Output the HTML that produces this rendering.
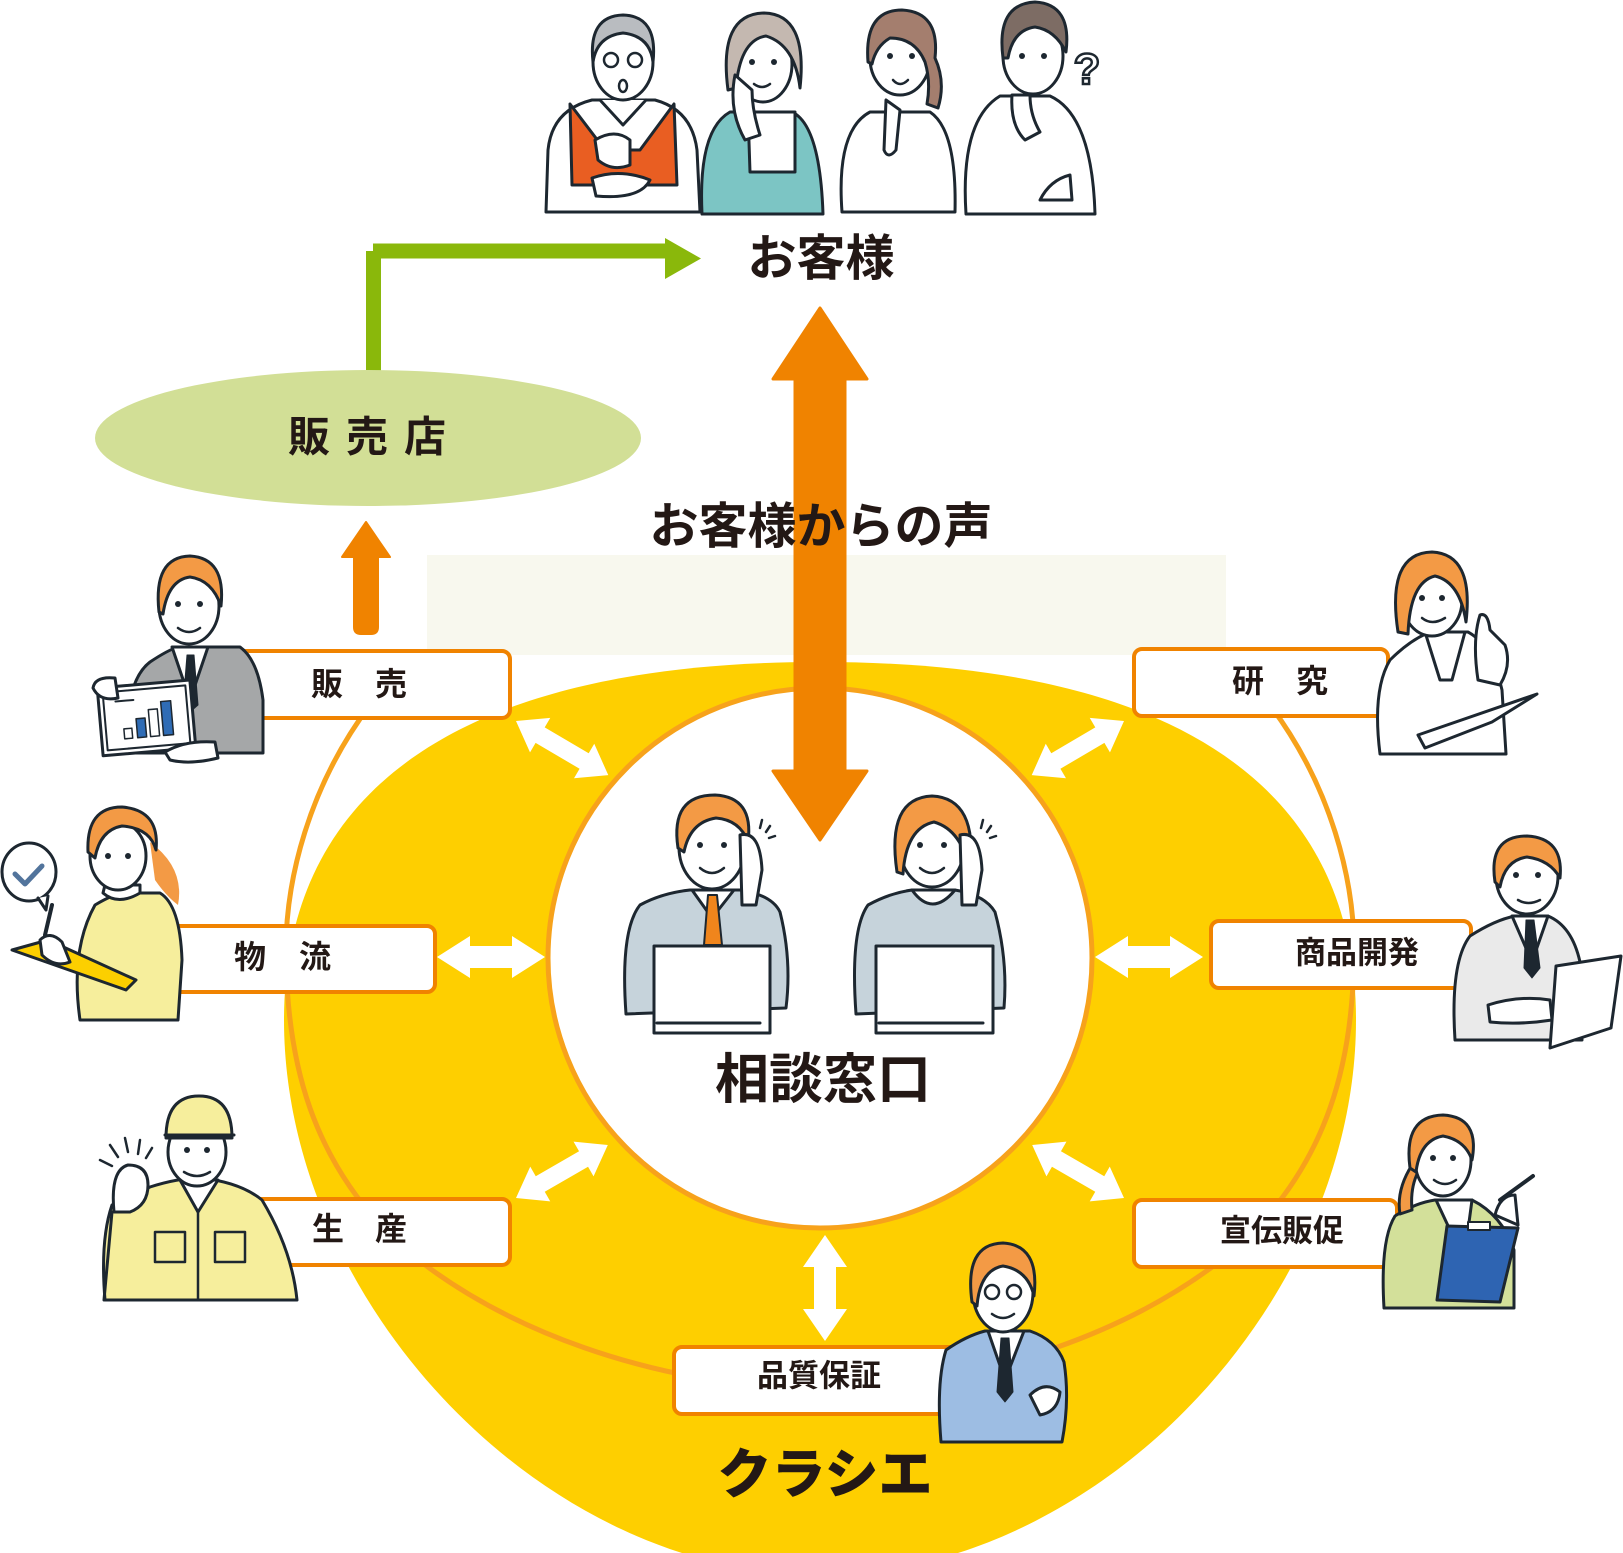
<!DOCTYPE html>
<html><head><meta charset="utf-8"><style>
html,body{margin:0;padding:0;background:#fff;}
svg{display:block;font-family:"Liberation Sans","Noto Sans CJK JP",sans-serif;}
.t{font-weight:700;fill:#231815;text-anchor:middle;dominant-baseline:central;}
.k{stroke:#1d2730;stroke-width:3;stroke-linejoin:round;stroke-linecap:round;}
</style></head><body>
<svg width="1623" height="1553" viewBox="0 0 1623 1553" xmlns="http://www.w3.org/2000/svg">
<rect x="0" y="0" width="1623" height="1553" fill="#fff"/>
<!-- pale rect -->
<rect x="427" y="555" width="799" height="100" fill="#f8f8ee"/>
<!-- yellow shape -->
<path d="M820 662 C1180 662 1356 790 1356 1020 C1356 1300 1100 1575 820 1575 C540 1575 284 1300 284 1020 C284 790 460 662 820 662 Z" fill="#fecf00"/>
<!-- thin amber loop -->
<path d="M370 705 C310 785 284 880 286 960 C288 1060 310 1160 400 1245 C500 1330 650 1385 820 1390 C990 1385 1140 1330 1240 1245 C1330 1160 1352 1060 1354 960 C1356 880 1330 785 1270 705" fill="none" stroke="#f7a21b" stroke-width="5"/>
<!-- white circle -->
<ellipse cx="820" cy="958" rx="272" ry="270" fill="#fff" stroke="#f7a21b" stroke-width="5"/>

<!-- ellipse 販売店 -->
<path d="M373 251 H666" stroke="#8ab80b" stroke-width="15" fill="none"/>
<rect x="366" y="251" width="15" height="125" fill="#8ab80b"/>
<polygon points="665,238 701,258.5 665,279" fill="#8ab80b"/>
<ellipse cx="368" cy="438" rx="273" ry="68" fill="#d2df96"/>
<text class="t" x="309" y="437" font-size="42">販</text>
<text class="t" x="367" y="437" font-size="42">売</text>
<text class="t" x="425" y="437" font-size="42">店</text>

<!-- small orange arrow -->
<path d="M366 522 L390 557 L378 557 L378 627 Q378 634 371 634 L361 634 Q354 634 354 627 L354 557 L342 557 Z" fill="#f08300" stroke="#f08300" stroke-width="2" stroke-linejoin="round"/>

<!-- boxes -->
<g fill="#fff" stroke="#f08300" stroke-width="4">
<rect x="220" y="651" width="290" height="67" rx="8"/>
<rect x="1134" y="649" width="254" height="67" rx="8"/>
<rect x="168" y="926" width="267" height="66" rx="8"/>
<rect x="1211" y="921" width="260" height="67" rx="8"/>
<rect x="245" y="1199" width="265" height="66" rx="8"/>
<rect x="1134" y="1200" width="263" height="67" rx="8"/>
<rect x="674" y="1347" width="290" height="67" rx="8"/>
</g>
<text class="t" x="327" y="684" font-size="32">販</text>
<text class="t" x="391" y="684" font-size="32">売</text>
<text class="t" x="1248" y="681" font-size="32">研</text>
<text class="t" x="1312" y="681" font-size="32">究</text>
<text class="t" x="250" y="957" font-size="32">物</text>
<text class="t" x="315" y="957" font-size="32">流</text>
<text class="t" x="328" y="1229" font-size="32">生</text>
<text class="t" x="391" y="1229" font-size="32">産</text>
<text class="t" x="1357" y="953" font-size="31">商品開発</text>
<text class="t" x="1282" y="1231" font-size="31">宣伝販促</text>
<text class="t" x="819" y="1376" font-size="31">品質保証</text>

<!-- white double arrows -->
<g fill="#fff">
<polygon transform="translate(516,721) rotate(30.4)" points="0,0 28,-20 28,-9 79,-9 79,-20 107,0 79,20 79,9 28,9 28,20"/>
<polygon transform="translate(1124,721) rotate(149.6)" points="0,0 28,-20 28,-9 79,-9 79,-20 107,0 79,20 79,9 28,9 28,20"/>
<polygon transform="translate(516,1198) rotate(-30)" points="0,0 28,-20 28,-9 78,-9 78,-20 106,0 78,20 78,9 28,9 28,20"/>
<polygon transform="translate(1124,1198) rotate(210)" points="0,0 28,-20 28,-9 78,-9 78,-20 106,0 78,20 78,9 28,9 28,20"/>
<polygon transform="translate(437,957)" points="0,0 33,-21 33,-11 75,-11 75,-21 108,0 75,21 75,11 33,11 33,21"/>
<polygon transform="translate(1095,957)" points="0,0 33,-21 33,-11 75,-11 75,-21 108,0 75,21 75,11 33,11 33,21"/>
<polygon transform="translate(825,1235) rotate(90)" points="0,0 32,-22 32,-11 74,-11 74,-22 106,0 74,22 74,11 32,11 32,22"/>
</g>

<!-- big orange double arrow -->
<path d="M820 308 L867 379 L845 379 L845 771 L867 771 L820 840 L773 771 L795 771 L795 379 L773 379 Z" fill="#f08300" stroke="#f08300" stroke-width="3" stroke-linejoin="round"/>

<!-- texts (on top of arrow) -->
<text class="t" x="821" y="259" font-size="49">お客様</text>
<text class="t" x="821" y="527" font-size="49">お客様からの声</text>
<text class="t" x="823" y="1080" font-size="54">相談窓口</text>
<text class="t" x="825" y="1475" font-size="54" style="font-weight:900">クラシエ</text>

<!-- ===== customers ===== -->
<g class="k">
<!-- P1 old man -->
<path d="M546 212 L548 150 Q552 110 592 100 L655 100 Q692 110 697 150 L700 212 Z" fill="#fff"/>
<path d="M570 104 L605 150 L640 150 L674 104 L677 185 L572 185 Z" fill="#e95e22"/>
<path d="M600 100 L623 125 L646 100" fill="#fff"/>
<ellipse cx="623" cy="62" rx="30" ry="38" fill="#fff"/>
<path d="M593 62 Q588 16 623 15 Q658 16 653 62 Q650 36 623 33 Q597 36 593 62 Z" fill="#b9bcc0"/>
<circle cx="611" cy="60" r="7" fill="none" stroke-width="2.5"/>
<circle cx="635" cy="60" r="7" fill="none" stroke-width="2.5"/>
<ellipse cx="623" cy="86" rx="4" ry="6" fill="#fff" stroke-width="2.5"/>
<path d="M595 140 Q615 128 630 140 L630 165 Q612 172 598 160 Z" fill="#fff"/>
<path d="M592 178 Q620 168 650 180 Q640 200 596 196 Z" fill="#fff"/>
<!-- P2 old woman -->
<path d="M702 214 Q698 130 730 112 L792 112 Q820 125 823 214 Z" fill="#7cc5c4"/>
<path d="M748 112 L795 112 L795 172 L750 172 Z" fill="#fff"/>
<ellipse cx="763" cy="64" rx="29" ry="38" fill="#fff"/>
<path d="M728 90 Q718 14 764 13 Q808 14 800 88 Q795 45 766 36 Q740 40 736 88 Z" fill="#c4b8b0"/>
<path d="M735 75 Q728 110 745 140 L760 135 Q752 110 752 90 Z" fill="#fff"/>
<path d="M754 84 Q762 90 770 84" fill="none" stroke-width="2.5"/>
<!-- P3 woman -->
<path d="M842 212 Q836 130 870 112 L930 112 Q957 130 955 212 Z" fill="#fff"/>
<ellipse cx="900" cy="58" rx="30" ry="37" fill="#fff"/>
<path d="M868 62 Q864 10 902 10 Q940 12 935 58 Q946 82 938 108 L927 104 Q931 82 925 62 Q915 38 890 38 Q876 46 872 64 Z" fill="#a47e6e"/>
<path d="M886 100 L884 150 Q888 160 896 150 L900 110 Z" fill="#fff"/>
<path d="M893 80 Q900 88 908 80" fill="#fff" stroke-width="2.5"/>
<!-- P4 man -->
<path d="M966 214 Q960 120 1000 96 L1050 96 Q1092 115 1095 214 Z" fill="#fff"/>
<ellipse cx="1033" cy="56" rx="30" ry="38" fill="#fff"/>
<path d="M1003 58 Q996 4 1035 2 Q1072 4 1066 52 Q1055 30 1035 27 Q1013 30 1008 58 Z" fill="#7d6c64"/>
<path d="M1012 95 Q1010 125 1025 140 L1040 132 Q1030 115 1030 95 Z" fill="#fff"/>
<path d="M1040 200 Q1050 180 1070 175 L1072 200 Z" fill="#fff"/>
</g>
<text x="1087" y="84" font-size="44" font-weight="700" fill="#fff" stroke="#1d2730" stroke-width="2.5" text-anchor="middle" font-family="Liberation Sans, sans-serif">?</text>

<!-- ===== call center ===== -->
<g class="k">
<path d="M626 1014 Q620 930 640 905 Q662 893 690 890 L740 890 Q772 895 780 912 Q792 960 786 1008 Z" fill="#c6d3db"/>
<path d="M692 890 L712 918 L734 890 Z" fill="#fff"/>
<polygon points="708,895 717,895 722,945 704,945" fill="#f0851c" stroke-width="2"/>
<ellipse cx="712" cy="847" rx="33" ry="42" fill="#fff"/>
<path d="M678 848 Q670 795 715 795 Q754 797 748 842 Q740 820 716 818 Q690 822 684 852 Z" fill="#f39a45"/>
<path d="M740 835 Q760 830 762 870 L756 905 L742 905 Z" fill="#fff"/>
<rect x="654" y="946" width="116" height="87" fill="#fff"/>
<line x1="657" y1="1023" x2="760" y2="1023"/>
<path d="M856 1014 Q850 930 868 905 Q890 893 912 890 L955 890 Q985 895 995 912 Q1008 960 1004 1008 Z" fill="#c6d3db"/>
<path d="M912 890 Q932 918 955 890 Z" fill="#fff"/>
<ellipse cx="932" cy="847" rx="32" ry="40" fill="#fff"/>
<path d="M897 872 Q886 798 932 796 Q978 798 970 872 Q962 830 934 822 Q906 828 903 874 Z" fill="#f39a45"/>
<path d="M960 835 Q980 830 982 870 L976 905 L962 905 Z" fill="#fff"/>
<rect x="876" y="946" width="117" height="87" fill="#fff"/>
<line x1="879" y1="1023" x2="983" y2="1023"/>
<path d="M700 868 Q712 878 724 868" fill="none" stroke-width="2.5"/>
<path d="M920 868 Q932 878 944 868" fill="none" stroke-width="2.5"/>
</g>
<g stroke="#1d2730" stroke-width="2.5" stroke-linecap="round">
<line x1="762" y1="820" x2="760" y2="828"/><line x1="770" y1="826" x2="766" y2="832"/><line x1="775" y1="836" x2="769" y2="838"/>
<line x1="983" y1="820" x2="981" y2="828"/><line x1="991" y1="826" x2="987" y2="832"/><line x1="996" y1="836" x2="990" y2="838"/>
</g>

<!-- ===== 販売 man ===== -->
<g class="k">
<path d="M127 753 Q124 682 150 662 Q168 650 178 647 L240 647 Q258 660 263 700 L263 753 Z" fill="#a5a7a8"/>
<path d="M172 647 L190 700 L208 647 Z" fill="#fff"/>
<polygon points="187,655 194,655 198,705 190,712 183,705" fill="#1d2730" stroke-width="1"/>
<ellipse cx="189" cy="606" rx="30" ry="38" fill="#fff"/>
<path d="M159 612 Q153 557 190 556 Q226 558 221 606 Q212 580 190 577 Q168 580 163 614 Z" fill="#f39a45"/>
<path d="M178 628 Q189 636 200 628" fill="#fff" stroke-width="2.5"/>
<g transform="rotate(-5 145 718)"><rect x="100" y="684" width="93" height="68" fill="#fff"/>
<rect x="105" y="689" width="83" height="58" fill="none" stroke-width="2"/>
<rect x="123" y="727" width="8" height="10" fill="#fff" stroke-width="1.5"/>
<rect x="136" y="718" width="9" height="19" fill="#2f6cb5" stroke-width="1.5"/>
<rect x="149" y="710" width="9" height="27" fill="#fff" stroke-width="1.5"/>
<rect x="162" y="703" width="10" height="34" fill="#2f6cb5" stroke-width="1.5"/>
<line x1="117" y1="699" x2="135" y2="699" stroke-width="2"/></g>
<path d="M93 688 Q95 676 115 678 L118 698 Q100 702 93 688 Z" fill="#fff"/>
<path d="M165 752 Q185 740 215 742 L218 758 Q190 765 170 760 Z" fill="#fff"/>
</g>

<!-- ===== 物流 woman ===== -->
<g class="k">
<path d="M80 1020 Q70 950 95 905 Q115 893 125 893 L160 893 Q180 905 182 960 L178 1020 Z" fill="#f6ee9c"/>
<path d="M103 893 Q118 906 140 893 L140 885 L105 885 Z" fill="#fff"/>
<path d="M150 842 Q185 868 178 905 Q166 896 155 880 Z" fill="#f39a45" stroke="none"/>
<ellipse cx="118" cy="856" rx="28" ry="34" fill="#fff"/>
<path d="M88 852 Q86 807 122 807 Q160 810 156 850 Q150 828 122 826 Q100 830 95 858 Z" fill="#f39a45"/>
<polygon points="12,950 48,940 136,980 126,990" fill="#fccf00"/>
<path d="M40 940 Q50 930 62 942 L70 962 Q55 968 42 955 Z" fill="#fff"/>
<line x1="45" y1="935" x2="52" y2="905" stroke-width="4"/>
<ellipse cx="29" cy="872" rx="27" ry="29" fill="#fff"/>
<path d="M38 898 L46 910 L48 896" fill="#fff"/>
</g>
<path d="M15 874 L25 884 L42 866" fill="none" stroke="#52749c" stroke-width="5" stroke-linecap="round" stroke-linejoin="round"/>

<!-- ===== 生産 man ===== -->
<g class="k">
<path d="M105 1300 Q100 1240 112 1205 L150 1187 Q178 1178 200 1178 Q240 1182 262 1200 Q292 1250 297 1300 Z" fill="#f6ee9c"/>
<path d="M180 1180 L198 1212 L218 1180 Z" fill="#fff"/>
<rect x="155" y="1232" width="30" height="30" fill="none" stroke-width="2.5"/>
<rect x="215" y="1232" width="30" height="30" fill="none" stroke-width="2.5"/>
<line x1="198" y1="1212" x2="198" y2="1300" stroke-width="2.5"/>
<ellipse cx="197" cy="1152" rx="29" ry="34" fill="#fff"/>
<path d="M166 1138 Q166 1096 199 1096 Q232 1096 232 1138 Z" fill="#f6ee9c"/>
<line x1="165" y1="1135" x2="234" y2="1135"/>
<path d="M184 1172 Q197 1180 210 1172" fill="none" stroke-width="2.5"/>
<path d="M114 1212 Q110 1170 128 1165 Q148 1165 148 1185 Q148 1205 130 1212 Z" fill="#fff"/>
<path d="M112 1212 L104 1300" fill="none"/>
</g>
<g stroke="#1d2730" stroke-width="2.5" stroke-linecap="round">
<line x1="100" y1="1160" x2="112" y2="1166"/><line x1="110" y1="1145" x2="118" y2="1157"/><line x1="125" y1="1138" x2="128" y2="1152"/><line x1="140" y1="1140" x2="138" y2="1154"/><line x1="152" y1="1148" x2="146" y2="1158"/>
</g>

<!-- ===== 研究 woman ===== -->
<g class="k">
<path d="M1380 754 Q1372 690 1390 660 Q1410 640 1430 632 L1468 632 Q1492 645 1502 690 L1506 754 Z" fill="#fff"/>
<path d="M1425 632 L1440 680 L1452 680 L1465 632 Z" fill="#fff"/>
<ellipse cx="1432" cy="600" rx="30" ry="36" fill="#fff"/>
<path d="M1398 632 Q1386 553 1432 552 Q1474 554 1466 622 Q1460 582 1435 576 Q1410 582 1408 634 Z" fill="#f39a45"/>
<path d="M1478 680 Q1472 640 1480 615 Q1488 612 1490 630 L1505 645 Q1512 665 1500 685 Z" fill="#fff"/>
<polygon points="1418,735 1537,694 1492,722 1425,748" fill="#fff"/>
<path d="M1422 618 Q1432 626 1445 618" fill="none" stroke-width="2.5"/>
</g>

<!-- ===== 商品開発 man ===== -->
<g class="k">
<path d="M1455 1040 Q1450 962 1470 936 Q1495 920 1515 916 L1548 916 Q1572 926 1580 962 L1582 1040 Z" fill="#eaeaea"/>
<path d="M1512 916 L1532 962 L1548 916 Z" fill="#fff"/>
<polygon points="1526,920 1534,920 1540,968 1532,978 1524,968" fill="#1d2730" stroke-width="1"/>
<ellipse cx="1527" cy="876" rx="31" ry="38" fill="#fff"/>
<path d="M1495 882 Q1488 836 1527 836 Q1564 838 1560 878 Q1550 860 1527 857 Q1505 860 1500 887 Z" fill="#f39a45"/>
<polygon points="1556,966 1621,956 1611,1028 1550,1048" fill="#fff"/>
<path d="M1488 1005 Q1520 995 1550 1000 L1552 1020 Q1520 1025 1490 1022 Z" fill="#fff"/>
<path d="M1518 900 Q1528 906 1540 900" fill="none" stroke-width="2.5"/>
</g>

<!-- ===== 宣伝販促 woman ===== -->
<g class="k">
<path d="M1384 1308 Q1380 1240 1395 1216 Q1415 1203 1435 1200 L1472 1200 Q1502 1215 1514 1250 L1514 1308 Z" fill="#d3e09a"/>
<path d="M1436 1200 L1450 1230 L1468 1230 L1472 1200 Z" fill="#fff"/>
<path d="M1412 1165 Q1396 1190 1400 1214 L1412 1210 Q1410 1188 1418 1172 Z" fill="#f39a45"/>
<ellipse cx="1443" cy="1160" rx="28" ry="36" fill="#fff"/>
<path d="M1410 1168 Q1403 1116 1443 1115 Q1480 1117 1472 1160 Q1465 1140 1443 1136 Q1420 1140 1416 1172 Z" fill="#f39a45"/>
<polygon points="1447,1226 1518,1228 1500,1302 1437,1300" fill="#2e64b2"/>
<rect x="1468" y="1222" width="22" height="8" fill="#fff" stroke-width="2"/>
<line x1="1500" y1="1200" x2="1533" y2="1176" stroke-width="4"/>
<path d="M1495 1215 Q1500 1195 1515 1195 L1518 1225 Z" fill="#fff"/>
<path d="M1434 1180 Q1445 1188 1456 1180" fill="#fff" stroke-width="2.5"/>
</g>

<!-- ===== 品質保証 man ===== -->
<g class="k">
<path d="M941 1442 Q936 1382 946 1350 Q966 1336 985 1331 L1030 1331 Q1056 1340 1064 1362 Q1070 1400 1062 1442 Z" fill="#9dbde3"/>
<path d="M988 1331 L1005 1380 L1024 1331 Z" fill="#fff"/>
<polygon points="1001,1338 1009,1338 1013,1392 1005,1402 997,1392" fill="#1d2730" stroke-width="1"/>
<ellipse cx="1003" cy="1292" rx="30" ry="40" fill="#fff"/>
<path d="M972 1302 Q964 1244 1003 1243 Q1040 1245 1034 1296 Q1028 1270 1003 1266 Q980 1270 977 1306 Z" fill="#f39a45"/>
<circle cx="992" cy="1292" r="7" fill="none" stroke-width="2.5"/>
<circle cx="1014" cy="1292" r="7" fill="none" stroke-width="2.5"/>
<path d="M992 1314 Q1003 1322 1014 1314" fill="none" stroke-width="2.5"/>
<path d="M1030 1395 Q1045 1380 1060 1392 Q1058 1412 1040 1415 Z" fill="#fff"/>
</g>

<!-- eyes -->
<g fill="#1d2730">
<circle cx="752" cy="62" r="3"/><circle cx="774" cy="62" r="3"/>
<circle cx="890" cy="56" r="3"/><circle cx="912" cy="56" r="3"/>
<circle cx="1022" cy="56" r="3"/><circle cx="1044" cy="56" r="3"/>
<circle cx="700" cy="845" r="3"/><circle cx="724" cy="845" r="3"/>
<circle cx="920" cy="845" r="3"/><circle cx="944" cy="845" r="3"/>
<circle cx="178" cy="604" r="3"/><circle cx="200" cy="604" r="3"/>
<circle cx="108" cy="856" r="3"/><circle cx="128" cy="856" r="3"/>
<circle cx="187" cy="1150" r="3"/><circle cx="207" cy="1150" r="3"/>
<circle cx="1422" cy="598" r="3"/><circle cx="1442" cy="598" r="3"/>
<circle cx="1516" cy="875" r="3"/><circle cx="1538" cy="875" r="3"/>
<circle cx="1433" cy="1158" r="3"/><circle cx="1453" cy="1158" r="3"/>
</g>
</svg>
</body></html>
